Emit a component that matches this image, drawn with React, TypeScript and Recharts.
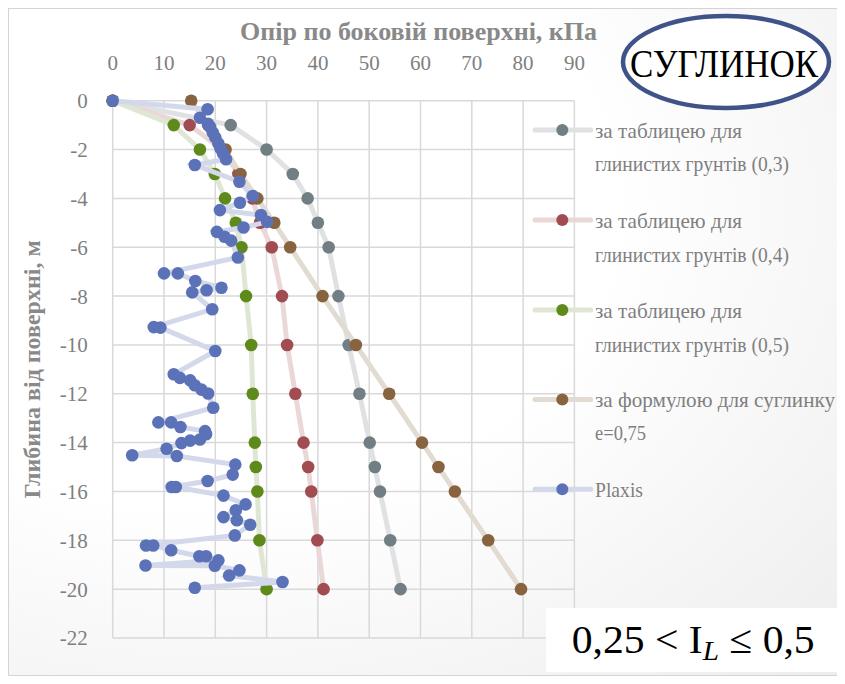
import React from 'react';
import { ScatterChart, Scatter, XAxis, YAxis, CartesianGrid, Label } from 'recharts';

// ---- data ----
const depthsTable = [0, -1, -2, -3, -4, -5, -6, -8, -10, -12, -14, -15, -16, -18, -20];
const table03 = [0, 23.0, 30.0, 35.1, 38.0, 40.0, 42.1, 44.0, 46.0, 48.1, 50.1, 51.1, 52.1, 54.1, 56.1];
const table04 = [0, 15.0, 21.3, 24.5, 27.2, 28.7, 31.0, 33.0, 34.0, 35.6, 37.2, 38.1, 38.7, 39.9, 41.1];
const table05 = [0, 11.9, 17.0, 19.9, 21.9, 24.0, 25.1, 26.0, 27.0, 27.3, 27.7, 27.9, 28.2, 28.6, 30.0];
const formulaE075 = [15.3, 18.6, 22.0, 24.9, 28.2, 31.5, 34.6, 40.9, 47.4, 53.9, 60.3, 63.5, 66.7, 73.2, 79.6];

const plaxisResistance = [
  0, 18.5, 17.0, 18.6, 19.0, 19.5, 20.0, 20.6, 21.0, 21.5, 22.1, 16.0, 24.7, 27.3, 24.8, 20.9, 28.9, 30.1,
  25.5, 20.3, 21.8, 23.1, 24.4, 10.0, 12.7, 16.1, 21.2, 18.3, 15.5, 19.4, 8.0, 9.3, 20.0, 11.9, 13.1, 15.1,
  16.0, 17.3, 18.6, 19.6, 8.9, 11.4, 13.2, 18.0, 18.2, 17.0, 15.1, 13.4, 10.5, 3.8, 12.5, 23.9, 23.4, 18.5,
  11.5, 12.3, 21.6, 25.9, 24.0, 21.6, 24.2, 26.8, 23.8, 6.5, 7.9, 11.4, 16.9, 18.2, 20.6, 6.4, 19.9, 24.7,
  22.7, 33.1, 16.0,
];
const plaxisDepth = [
  0, -0.35, -0.7, -0.95, -1.08, -1.3, -1.5, -1.75, -1.95, -2.15, -2.4, -2.63, -3.32, -3.9, -4.18, -4.48, -4.68, -4.96,
  -5.19, -5.37, -5.57, -5.73, -6.42, -7.07, -7.07, -7.38, -7.66, -7.76, -7.85, -8.54, -9.27, -9.29, -10.25, -11.2, -11.35, -11.45,
  -11.65, -11.83, -11.99, -12.57, -13.17, -13.17, -13.36, -13.53, -13.66, -13.87, -13.92, -14.02, -14.25, -14.52, -14.55, -14.9, -15.31, -15.57,
  -15.82, -15.82, -16.17, -16.53, -16.77, -17.05, -17.18, -17.36, -17.8, -18.21, -18.21, -18.41, -18.65, -18.65, -18.82, -19.03, -19.04, -19.23,
  -19.44, -19.71, -19.94,
];

const xTicks = [0, 10, 20, 30, 40, 50, 60, 70, 80, 90];
const yTicks = [0, -2, -4, -6, -8, -10, -12, -14, -16, -18, -20, -22];

const seriesNames = [
  ['за таблицею для', 'глинистих грунтів (0,3)'],
  ['за таблицею для', 'глинистих грунтів (0,4)'],
  ['за таблицею для', 'глинистих грунтів (0,5)'],
  ['за формулою для суглинку', 'е=0,75'],
  ['Plaxis'],
];

const toPoints = (xs: number[], ys: number[]) => xs.map((x, i) => ({ x, y: ys[i] }));

const FONT = "'Liberation Serif', 'DejaVu Serif', serif";

const series = [
  { name: seriesNames[0], data: toPoints(table03, depthsTable), dot: '#717f84', line: '#dfe1e2' },
  { name: seriesNames[1], data: toPoints(table04, depthsTable), dot: '#a04c50', line: '#ead8d8' },
  { name: seriesNames[2], data: toPoints(table05, depthsTable), dot: '#5e8a1c', line: '#dfe7d4' },
  { name: seriesNames[3], data: toPoints(formulaE075, depthsTable), dot: '#87643f', line: '#e2dbd2' },
  { name: seriesNames[4], data: toPoints(plaxisResistance, plaxisDepth), dot: '#5b72b8', line: '#d3d9eb' },
];

const legendLayout = [
  { dotY: 122, base: [130.3, 162.7], len: [147, 194] },
  { dotY: 212, base: [219.7, 253.7], len: [147, 194] },
  { dotY: 302, base: [309.7, 343.7], len: [147, 194] },
  { dotY: 391.5, base: [399.3, 432], len: [240, 51] },
  { dotY: 481.3, base: [488.7], len: [48] },
];

const makeDot = (color: string) => (props: any) => {
  if (props.cx == null || props.cy == null) return <g />;
  return <circle cx={props.cx} cy={props.cy} r={6.3} fill={color} />;
};

export default function App() {
  const W = 830;
  const H = 668;
  return (
    <div
      style={{
        position: 'relative',
        width: W,
        height: H,
        background: 'radial-gradient(ellipse at 25% 30%, #ffffff 45%, #ededed 100%)',
        fontFamily: FONT,
      }}
    >
      <div
        style={{
          position: 'absolute',
          left: 0,
          top: 0,
          width: W,
          height: H,
          boxSizing: 'border-box',
          border: '1px solid #d4d4d4',
        }}
      />
      <div style={{ position: 'absolute', left: 0, top: 0 }}>
        <ScatterChart width={W} height={H} margin={{ top: 32.7, left: 44.7, right: 263.6, bottom: 38 }}>
          <CartesianGrid stroke="#d9d9d9" strokeWidth={1.5} />
          <XAxis
            type="number"
            dataKey="x"
            orientation="top"
            domain={[0, 90]}
            ticks={xTicks}
            interval={0}
            height={60}
            tickLine={false}
            axisLine={false}
            tickSize={0}
            tickMargin={31}
            tick={{ fill: '#7f7f7f', fontSize: 21, fontFamily: FONT }}
          >
            <Label
              value="Опір по боковій поверхні, кПа"
              position="top"
              offset={1}
              dx={75}
              style={{ fill: '#898989', fontSize: 26, fontWeight: 'bold', fontFamily: FONT }}
            />
          </XAxis>
          <YAxis
            type="number"
            dataKey="y"
            domain={[-22, 0]}
            ticks={yTicks}
            interval={0}
            width={60}
            tickLine={false}
            axisLine={false}
            tickSize={0}
            tickMargin={25}
            tick={{ fill: '#7f7f7f', fontSize: 21, fontFamily: FONT }}
          >
            <Label
              value="Глибина від поверхні, м"
              angle={-90}
              position="insideLeft"
              offset={-21}
              style={{ textAnchor: 'middle', fill: '#898989', fontSize: 24, fontWeight: 'bold', fontFamily: FONT }}
            />
          </YAxis>
          {series.map((s, i) => (
            <Scatter
              key={i}
              name={s.name.join(' ')}
              data={s.data}
              fill={s.dot}
              line={{ stroke: s.line, strokeWidth: 5 }}
              lineType="joint"
              shape={makeDot(s.dot)}
              isAnimationActive={false}
            />
          ))}
        </ScatterChart>
      </div>
      <svg
        width={W + 4}
        height={H}
        style={{ position: 'absolute', left: 0, top: 0, overflow: 'visible', pointerEvents: 'none' }}
      >
        {/* legend */}
        {series.map((s, i) => {
          const L = legendLayout[i];
          return (
            <g key={i}>
              <line x1={527} x2={582.7} y1={L.dotY} y2={L.dotY} stroke={s.line} strokeWidth={5} strokeLinecap="round" />
              <circle cx={554.3} cy={L.dotY} r={6} fill={s.dot} />
              {s.name.map((t, j) => (
                <text
                  key={j}
                  x={587}
                  y={L.base[j]}
                  fontSize={22}
                  fill="#7f7f7f"
                  fontFamily={FONT}
                  textLength={L.len[j]}
                  lengthAdjust="spacingAndGlyphs"
                >
                  {t}
                </text>
              ))}
            </g>
          );
        })}
        {/* soil label */}
        <ellipse cx={718} cy={54} rx={103} ry={46} fill="#ffffff" stroke="#3f5388" strokeWidth={4.5} />
        <text
          x={622}
          y={68.7}
          fontSize={40}
          fill="#000000"
          fontFamily={FONT}
          textLength={188}
          lengthAdjust="spacingAndGlyphs"
        >
          СУГЛИНОК
        </text>
        {/* liquidity index box */}
        <rect x={538} y={600} width={294} height={64} fill="#ffffff" />
        <text x={563.7} y={645.3} fontSize={40} fill="#000000" fontFamily={FONT} textLength={243} lengthAdjust="spacingAndGlyphs">
          <tspan>0,25 &lt; I</tspan>
          <tspan fontStyle="italic" fontSize={28} dy={7}>L</tspan>
          <tspan dy={-7}> ≤ 0,5</tspan>
        </text>
      </svg>
    </div>
  );
}
